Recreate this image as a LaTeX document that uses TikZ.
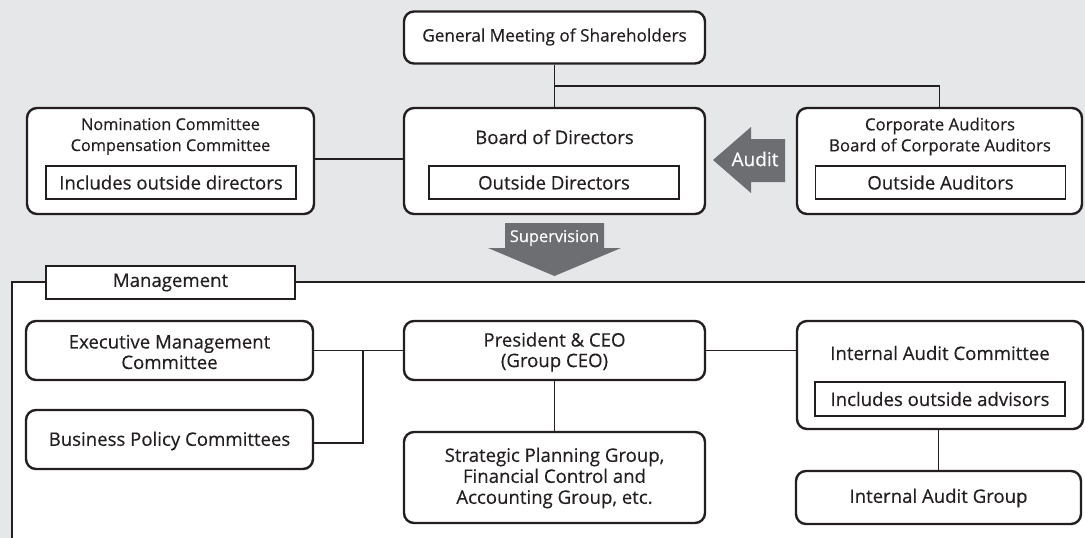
\documentclass[tikz,border=0pt]{standalone}
\usepackage{fontspec}
\setmainfont{Open Sans}[FakeBold=0.35]
\definecolor{bg}{HTML}{E6E7E8}
\definecolor{ink}{HTML}{231F20}
\definecolor{arr}{HTML}{6D6E71}
\newcommand{\bigtxt}{\fontsize{18.6}{20.5}\selectfont}
\newcommand{\smalltxt}{\fontsize{16.3}{21}\selectfont}
\begin{document}
\begin{tikzpicture}[x=1pt,y=-1pt,
  box/.style={draw=ink, line width=2.4pt, rounded corners=10pt, fill=white, inner sep=0pt},
  inbox/.style={draw=ink, line width=1.1pt, fill=white, inner sep=0pt, text=ink, font=\bigtxt},
  txt/.style={inner sep=0pt, align=center, text=ink, font=\bigtxt},
  stxt/.style={inner sep=0pt, align=center, text=ink, font=\smalltxt},
  conn/.style={draw=ink, line width=1.3pt},
  bigarrow/.style={fill=arr, draw=none}]
\useasboundingbox (0,0) rectangle (1085,538);
\fill[bg] (0,0) rectangle (1085,538);
\fill[white] (12,282) rectangle (1085,538);
\draw[conn] (1085,282) -- (12,282) -- (12,538);

% ---- governance ----
\node[box, minimum width=301pt, minimum height=52pt] (gm) at (554.5,37.5) {};
\node[stxt, font=\fontsize{17.2}{21}\selectfont] (gmt) at (554.5,37) {General Meeting of Shareholders};

\node[box, minimum width=287pt, minimum height=106pt] (nom) at (170.5,161) {};
\node[stxt] (nomt) at (170.5,136.5) {Nomination Committee\\Compensation Committee};
\node[inbox, minimum width=250pt, minimum height=33pt] (nomi) at (171,182.5) {Includes outside directors};

\node[box, minimum width=301pt, minimum height=106pt] (bod) at (554.5,161) {};
\node[txt] (bodt) at (554.5,137) {Board of Directors};
\node[inbox, minimum width=250pt, minimum height=33pt] (bodi) at (554,182.5) {Outside Directors};

\node[box, minimum width=285pt, minimum height=106pt] (cor) at (939.5,161) {};
\node[stxt, font=\fontsize{16.8}{21}\selectfont] (cort) at (940,136.5) {Corporate Auditors\\Board of Corporate Auditors};
\node[inbox, minimum width=250pt, minimum height=33pt] (cori) at (940.5,182.5) {Outside Auditors};

\coordinate (j1) at (554.5,86);
\draw[conn] (gm.south) -- (j1) -- (bod.north);
\draw[conn] (j1) -| (cor.north);
\draw[conn] ([yshift=2pt]nom.east) -- ([yshift=2pt]bod.west);

% audit arrow
\fill[bigarrow] (713,160) -- (751,127) -- (751,139) -- (785,139) -- (785,182) -- (751,182) -- (751,193) -- cycle;
\node[inner sep=0pt, text=white, font=\fontsize{19}{21}\selectfont] (audit) at (755,159) {Audit};

% supervision arrow
\fill[bigarrow] (505,223) -- (604,223) -- (604,248) -- (621,248) -- (554.5,276) -- (488,248) -- (505,248) -- cycle;
\node[inner sep=0pt, text=white, font=\fontsize{16.4}{20}\selectfont] (sup) at (554.5,238) {Supervision};

% ---- management ----
\node[inbox, minimum width=249pt, minimum height=33pt] (mlab) at (170.5,282.5) {Management};

\node[box, minimum width=287pt, minimum height=59pt] (exec) at (169.5,350.5) {};
\node[txt] (exect) at (169.5,352) {Executive Management\\Committee};

\node[box, minimum width=287pt, minimum height=59pt] (bpc) at (169.5,439.5) {};
\node[txt] (bpct) at (169.5,441) {Business Policy Committees};

\node[box, minimum width=301pt, minimum height=59pt] (pres) at (554.5,350.5) {};
\node[txt] (prest) at (554.5,352) {President \& CEO\\(Group CEO)};

\node[box, minimum width=301pt, minimum height=91pt] (strat) at (554.5,477.5) {};
\node[txt, font=\fontsize{18.6}{21}\selectfont] (stratt) at (554.5,478) {Strategic Planning Group,\\Financial Control and\\Accounting Group, etc.};

\node[box, minimum width=286pt, minimum height=108pt] (iac) at (940,375) {};
\node[txt] (iact) at (940,353) {Internal Audit Committee};
\node[inbox, minimum width=250pt, minimum height=34pt] (iaci) at (940,399) {Includes outside advisors};

\node[box, minimum width=285pt, minimum height=53pt] (iag) at (938.5,497.5) {};
\node[txt] (iagt) at (938.5,498) {Internal Audit Group};

\coordinate (j2) at (363,350.5);
\coordinate (j3) at (363,443);
\draw[conn] (exec.east) -- (pres.west);
\draw[conn] (j2) -- (j3) -- (j3 -| bpc.east);
\draw[conn] (pres.east) -- (pres.east -| iac.west);
\draw[conn] (pres.south) -- (strat.north);
\draw[conn] (iac.south -| iag.north) -- (iag.north);
\end{tikzpicture}
\end{document}
